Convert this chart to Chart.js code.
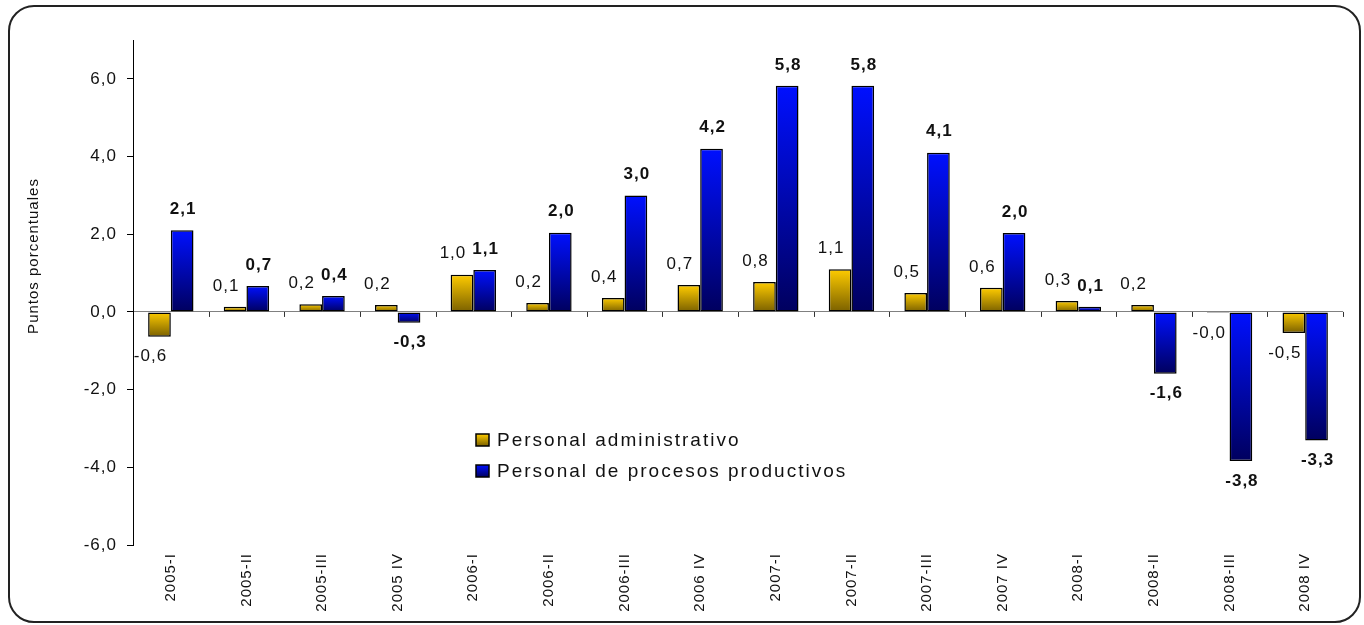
<!DOCTYPE html>
<html lang="es">
<head>
<meta charset="utf-8">
<title>Puntos porcentuales</title>
<script src="https://cdn.jsdelivr.net/npm/chart.js@4.4.1/dist/chart.umd.min.js"></script>
<style>
    html, body { margin: 0; padding: 0; background: #fff; }
    #wrap { position: relative; width: 1364px; height: 625px; overflow: hidden; }
    #frame {
        position: absolute; left: 8px; top: 5px; width: 1353px; height: 618px;
        box-sizing: border-box; border: 2px solid #222; border-radius: 26px;
    }
    #head {
        position: absolute; left: 166px; top: -25px; line-height: 24px; letter-spacing: 2px;
        font: bold 22px "Liberation Sans", Arial, sans-serif; color: #111; white-space: nowrap;
    }
    #chart { position: absolute; left: 0; top: 0; }
</style>
</head>
<body>
<div id="wrap">
    <div id="frame"></div>
    <div id="head">(1990 = 100)</div>
    <canvas id="chart" width="1364" height="625"></canvas>
</div>
<script>
// Quarterly contribution, percentage points
const categories = ['2005-I', '2005-II', '2005-III', '2005 IV', '2006-I', '2006-II', '2006-III', '2006 IV',
    '2007-I', '2007-II', '2007-III', '2007 IV', '2008-I', '2008-II', '2008-III', '2008 IV'];
const administrativo = [-0.64, 0.13, 0.20, 0.18, 0.96, 0.23, 0.36, 0.69, 0.77, 1.10, 0.49, 0.62, 0.28, 0.18, -0.03, -0.54];
const productivos = [2.10, 0.67, 0.41, -0.28, 1.08, 2.04, 3.00, 4.20, 5.82, 5.82, 4.10, 2.03, 0.13, -1.59, -3.84, -3.31];
const yTicks = [-6, -4, -2, 0, 2, 4, 6];
const seriesNames = ['Personal administrativo', 'Personal de procesos productivos'];
const axisTitle = 'Puntos porcentuales';

const FONT = '"Liberation Sans", Arial, sans-serif';
const GOLD = ['#FFCC00', '#7A6000'];
const BLUE = ['#0010FF', '#00005E'];

function fmt(v) {
    return Number(v).toFixed(1).replace('.', ',');
}

// vertical gradient over each bar, light end at the top
function shade(colors) {
    return function (c) {
        const chart = c.chart;
        if (!chart.chartArea || c.type !== 'data') return colors[0];
        const ys = chart.scales.y;
        const v = c.raw;
        const top = ys.getPixelForValue(Math.max(v, 0));
        const bot = ys.getPixelForValue(Math.min(v, 0));
        if (bot - top < 1) return colors[1];
        const g = chart.ctx.createLinearGradient(0, top, 0, bot);
        g.addColorStop(0, colors[0]);
        g.addColorStop(1, colors[1]);
        return g;
    };
}

// the original text is slightly spaced out
const spacing = {
    id: 'spacing',
    beforeDraw(chart) {
        chart.ctx.letterSpacing = '1px';
    }
};

// value labels above / below bars
const valueLabels = {
    id: 'valueLabels',
    afterDatasetsDraw(chart) {
        const ctx = chart.ctx;
        chart.data.datasets.forEach((ds, i) => {
            const meta = chart.getDatasetMeta(i);
            const bold = i === 1;
            ctx.save();
            ctx.font = (bold ? 'bold ' : '') + '17px ' + FONT;
            ctx.letterSpacing = '1px';
            ctx.fillStyle = '#111';
            ctx.textAlign = 'center';
            ctx.textBaseline = 'middle';
            meta.data.forEach((bar, j) => {
                const v = ds.data[j];
                const dx = bold ? 1 : -9;
                const y = v >= 0 ? bar.y - 21 : bar.y + 20;
                ctx.fillText(fmt(v), bar.x + dx, y);
            });
            ctx.restore();
        });
    }
};

// small tick marks on the zero line between categories
const zeroTicks = {
    id: 'zeroTicks',
    beforeDatasetsDraw(chart) {
        const xs = chart.scales.x, ys = chart.scales.y;
        const y0 = ys.getPixelForValue(0);
        const ctx = chart.ctx;
        ctx.save();
        ctx.strokeStyle = '#333';
        ctx.lineWidth = 1;
        for (let i = 1; i <= categories.length; i++) {
            const x = Math.round(xs.getPixelForValue(i - 0.5)) + 0.5;
            ctx.beginPath();
            ctx.moveTo(x, y0);
            ctx.lineTo(x, y0 + 5);
            ctx.stroke();
        }
        ctx.restore();
    }
};

// legend inside the plot + rotated axis title
const extras = {
    id: 'extras',
    afterDraw(chart) {
        const ctx = chart.ctx;
        ctx.save();
        ctx.font = '15px ' + FONT;
        ctx.letterSpacing = '1px';
        ctx.fillStyle = '#111';
        ctx.textAlign = 'center';
        ctx.textBaseline = 'middle';
        ctx.translate(34, 256);
        ctx.rotate(-Math.PI / 2);
        ctx.fillText(axisTitle, 0, 0);
        ctx.restore();

        const colors = [GOLD, BLUE];
        ctx.save();
        ctx.font = '19px ' + FONT;
        ctx.letterSpacing = '2px';
        ctx.textBaseline = 'middle';
        seriesNames.forEach((name, i) => {
            const x = 476, y = 440 + i * 31;
            const g = ctx.createLinearGradient(0, y - 6, 0, y + 6);
            g.addColorStop(0, colors[i][0]);
            g.addColorStop(1, colors[i][1]);
            ctx.fillStyle = g;
            ctx.fillRect(x, y - 6, 13, 12);
            ctx.strokeStyle = '#000';
            ctx.lineWidth = 1.5;
            ctx.strokeRect(x, y - 6, 13, 12);
            ctx.fillStyle = '#111';
            ctx.fillText(name, x + 21, y + 1);
        });
        ctx.restore();
    }
};

Chart.defaults.font.family = FONT;

new Chart(document.getElementById('chart'), {
    type: 'bar',
    data: {
        labels: categories,
        datasets: [{
            label: seriesNames[0],
            data: administrativo,
            backgroundColor: shade(GOLD),
            borderColor: '#000',
            borderWidth: 1.5,
            borderSkipped: false,
            categoryPercentage: 0.6,
            barPercentage: 1.0
        }, {
            label: seriesNames[1],
            data: productivos,
            backgroundColor: shade(BLUE),
            borderColor: '#000',
            borderWidth: 1.5,
            borderSkipped: false,
            categoryPercentage: 0.6,
            barPercentage: 1.0
        }]
    },
    options: {
        responsive: false,
        animation: false,
        layout: { padding: { left: 20, right: 21, top: 40, bottom: 0 } },
        plugins: {
            legend: { display: false },
            tooltip: { enabled: false }
        },
        scales: {
            x: {
                grid: { display: false, drawTicks: false },
                border: { display: false },
                ticks: {
                    autoSkip: false,
                    minRotation: 90,
                    maxRotation: 90,
                    padding: 8,
                    color: '#111',
                    font: { size: 15 }
                },
                afterFit(s) { s.height = 80; }
            },
            y: {
                min: -6,
                max: 7,
                ticks: {
                    stepSize: 2,
                    padding: 10,
                    color: '#111',
                    font: { size: 17 },
                    callback: v => fmt(v)
                },
                afterBuildTicks(s) {
                    s.ticks = s.ticks.filter(t => yTicks.includes(t.value));
                },
                grid: {
                    drawOnChartArea: true,
                    color: c => (c.tick && c.tick.value === 0 ? '#808080' : 'rgba(0,0,0,0)'),
                    tickColor: '#000',
                    tickLength: 6
                },
                border: { color: '#000', width: 1 },
                afterFit(s) { s.width = 113; }
            }
        }
    },
    plugins: [spacing, zeroTicks, valueLabels, extras]
});
</script>
</body>
</html>
